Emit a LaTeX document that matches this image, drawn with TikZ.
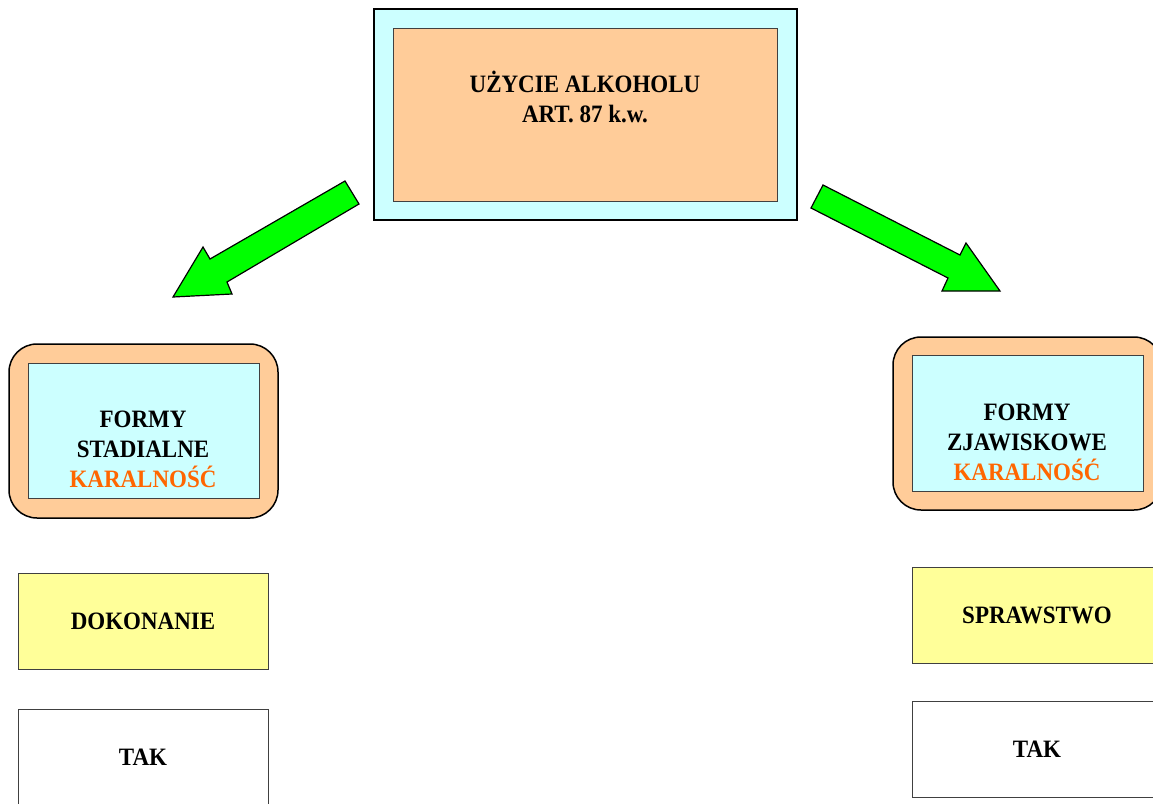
\documentclass[tikz,border=0pt]{standalone}
\usepackage{fontspec}
\setmainfont{Liberation Serif}[FakeStretch=0.92]
\definecolor{palecyan}{HTML}{CCFFFF}
\definecolor{peach}{HTML}{FFCC99}
\definecolor{paleyellow}{HTML}{FFFF99}
\definecolor{punish}{HTML}{FF6600}
\definecolor{arrowgreen}{HTML}{00FF00}
\tikzset{
    frame/.style={draw=black, line width=1.5pt, inner sep=0pt},
    panel/.style={draw=black!75, line width=1pt, inner sep=0pt},
    label/.style={font=\bfseries\fontsize{25}{30}\selectfont, align=center},
    bigarrow/.style={draw=black, line width=1.2pt, fill=arrowgreen, line join=miter}
}
\begin{document}
\begin{tikzpicture}[x=1pt, y=-1pt]
            \clip (0,0) rectangle (1153,803);

            % top box
            \node[frame, fill=palecyan, minimum width=423pt, minimum height=211pt] (alkohol) at (585.5,114.5) {};
            \node[panel, fill=peach, minimum width=384pt, minimum height=173pt] (alkoholin) at (585,114.5) {};
            \node[label] (alkoholtxt) at (585,97) {UŻYCIE ALKOHOLU\\ART. 87 k.w.};

            % arrows
            \draw[bigarrow] (345,181) -- (359,204) -- (227,282) -- (232,294) -- (173,297) -- (203,247) -- (210,259) -- cycle;
            \draw[bigarrow] (823,185) -- (960,255) -- (966,243) -- (1000,291) -- (942,291) -- (948,278) -- (811,208) -- cycle;

            % left column
            \node[frame, fill=peach, rounded corners=28pt, minimum width=269pt, minimum height=174pt] (stadial) at (143.5,431) {};
            \node[panel, fill=palecyan, minimum width=231pt, minimum height=135pt] (stadialin) at (143.5,430.5) {};
            \node[label] (stadialtxt) at (143,449) {FORMY\\STADIALNE\\\textcolor{punish}{KARALNOŚĆ}};
            \node[panel, fill=paleyellow, minimum width=250pt, minimum height=96pt, label] (dokonanie) at (143,621) {DOKONANIE};
            \node[panel, fill=white, minimum width=250pt, minimum height=96pt, label] (takleft) at (143,757) {TAK};

            % right column
            \node[frame, fill=peach, rounded corners=28pt, minimum width=269pt, minimum height=173pt] (zjaw) at (1027.5,423.5) {};
            \node[panel, fill=palecyan, minimum width=231pt, minimum height=136pt] (zjawin) at (1027.5,423) {};
            \node[label] (zjawtxt) at (1027,442) {FORMY\\ZJAWISKOWE\\\textcolor{punish}{KARALNOŚĆ}};
            \node[panel, fill=paleyellow, minimum width=250pt, minimum height=96pt, label] (sprawstwo) at (1037,615) {SPRAWSTWO};
            \node[panel, fill=white, minimum width=250pt, minimum height=96pt, label] (takright) at (1037,749.5) {TAK};
\end{tikzpicture}
\end{document}
